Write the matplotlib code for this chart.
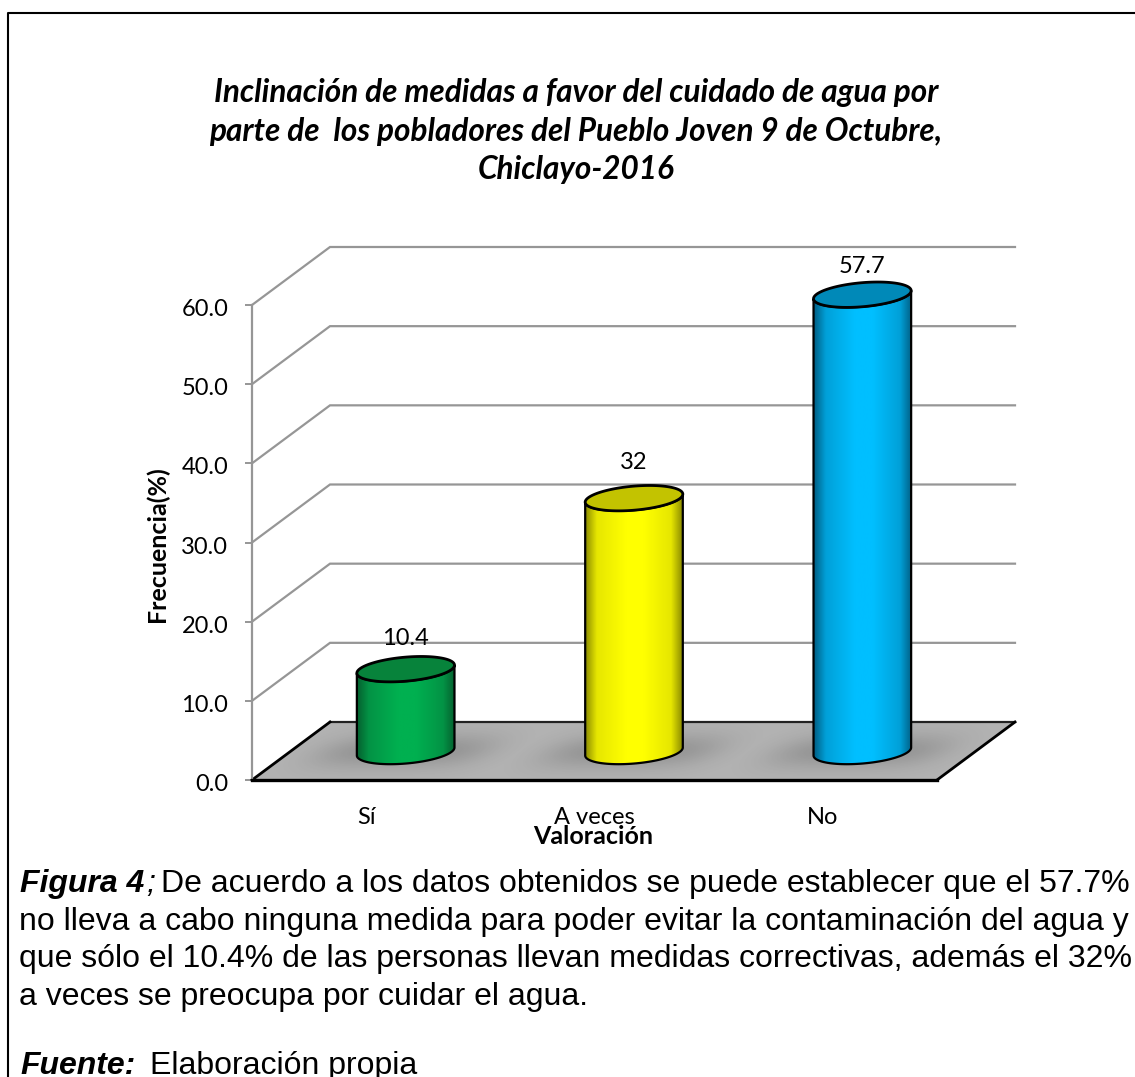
import numpy as np
from matplotlib import pyplot as plt
from matplotlib import patches
from matplotlib.colors import LinearSegmentedColormap
from matplotlib.transforms import ScaledTranslation

categories = ['Sí', 'A veces', 'No']
values = [10.4, 32, 57.7]
value_labels = ['10.4', '32', '57.7']
yticks = [0, 10, 20, 30, 40, 50, 60]
main_colors = ['#00B050', '#FFFF00', '#00BFFF']
mid_colors = ['#039345', '#E6E600', '#00A0D8']
edge_colors = ['#05602f', '#8a8a00', '#005f85']
top_colors = ['#07833b', '#c3c300', '#0089b8']
label_lift = [31, 36, 28]

title = ('Inclinación de medidas a favor del cuidado de agua por\n'
         'parte de  los pobladores del Pueblo Joven 9 de Octubre,\n'
         'Chiclayo-2016')
caption = ['no lleva a cabo ninguna medida para poder evitar la contaminación del agua y',
           'que sólo el 10.4% de las personas llevan medidas correctivas, además el 32%',
           'a veces se preocupa por cuidar el agua.']

W, H = 1135, 1077
CHART_FONT = 'Lato'
NOTE_FONT = 'Liberation Sans'

fig = plt.figure(figsize=(W / 100, H / 100), dpi=100)
ax = fig.add_axes([252 / W, 1 - 780 / H, 685 / W, 475 / H])
ax.set_xlim(-0.5, 2.5)
ax.set_ylim(0, 60)

# size of one pixel in data units, the 3d look is drawn with these
PX = 3 / 685
PY = 60 / 475
DEPTH_X = 78 * PX
DEPTH_Y = 58 * PY


def txt(x, y, s, **kw):
    return fig.text(x / W, 1 - y / H, s, **kw)


def ellipse_points(cx, cy, t, a=49, b=12, tilt=-5.0):
    # tilted ellipse, sizes in pixels, result in data units
    phi = np.radians(tilt)
    px = a * np.cos(t) * np.cos(phi) - b * np.sin(t) * np.sin(phi)
    py = a * np.cos(t) * np.sin(phi) + b * np.sin(t) * np.cos(phi)
    return np.column_stack([cx + px * PX, cy - py * PY])


# floor
floor_xy = np.array([[-0.5, 0], [2.5, 0], [2.5 + DEPTH_X, DEPTH_Y], [-0.5 + DEPTH_X, DEPTH_Y]])
floor = patches.Polygon(floor_xy, closed=True, fc='#B2B2B2', ec='none', zorder=1, clip_on=False)
ax.add_patch(floor)

# soft shadows on the floor
gx = np.linspace(-0.5, 2.5 + DEPTH_X, 500)
gy = np.linspace(0, DEPTH_Y, 100)
xx, yy = np.meshgrid(gx, gy)
shade = np.zeros_like(xx)
for i in range(len(values)):
    dx = (xx - (i + DEPTH_X / 2)) / PX
    dy = (yy - DEPTH_Y / 2) / PY
    shade = np.maximum(shade, np.exp(-((dx - 1.2 * dy) / 85) ** 4 - (dy / 17) ** 2))
rgba = np.zeros(xx.shape + (4,))
rgba[..., 3] = 0.17 * shade
im = ax.imshow(rgba, extent=(gx[0], gx[-1], gy[0], gy[-1]), origin='lower', aspect='auto', zorder=1.5)
im.set_clip_path(floor)
im.set_clip_box(fig.bbox)

# back and side walls
for v in yticks[1:]:
    ax.plot([-0.5, -0.5 + DEPTH_X, 2.5 + DEPTH_X], [v, v + DEPTH_Y, v + DEPTH_Y],
            color='#969696', lw=1.6, zorder=0.5, clip_on=False, solid_joinstyle='miter')

# floor outline
ax.plot([-0.5 + DEPTH_X, 2.5 + DEPTH_X], [DEPTH_Y, DEPTH_Y], color='#222222', lw=1.6, zorder=1.8, clip_on=False)
ax.plot([-0.5, -0.5 + DEPTH_X], [0, DEPTH_Y], color='k', lw=2.0, zorder=1.8, clip_on=False)
ax.plot([2.5, 2.5 + DEPTH_X], [0, DEPTH_Y], color='k', lw=2.0, zorder=1.8, clip_on=False)

# cylinders
t_all = np.linspace(0, 2 * np.pi, 120)
for i, v in enumerate(values):
    cx = i + DEPTH_X / 2 + 0.5 * PX
    base = DEPTH_Y / 2 - 0.5 * PY
    top = base + v
    # go round: top front edge left to right, then bottom front edge right to left
    front_top = ellipse_points(cx, top, np.linspace(np.pi, 0, 60))
    front_bot = ellipse_points(cx, base, np.linspace(0, np.pi, 60))
    body = np.vstack([front_top, front_bot])
    shape = patches.Polygon(body, closed=True, fc='none', ec='k', lw=1.6, zorder=3, clip_on=False)
    ax.add_patch(shape)
    cmap = LinearSegmentedColormap.from_list('c%d' % i, [(0, edge_colors[i]), (0.12, mid_colors[i]),
                                                         (0.42, main_colors[i]), (0.6, main_colors[i]),
                                                         (0.88, mid_colors[i]), (1, edge_colors[i])])
    xs = np.linspace(0, 1, 256).reshape(1, -1)
    grad = ax.imshow(xs, cmap=cmap, aspect='auto', zorder=2.5,
                     extent=(body[:, 0].min(), body[:, 0].max(), body[:, 1].min(), body[:, 1].max()))
    grad.set_clip_path(shape)
    grad.set_clip_box(fig.bbox)
    cap = patches.Polygon(ellipse_points(cx, top, t_all), closed=True, fc=top_colors[i], ec='k', lw=2.0,
                          zorder=4, clip_on=False)
    ax.add_patch(cap)
    ax.annotate(value_labels[i], (cx, top), xytext=(0, label_lift[i] * 0.72), textcoords='offset points',
                ha='center', va='center', fontsize=17, family=CHART_FONT, color='k', zorder=5,
                annotation_clip=False)

ax.set_xlim(-0.5, 2.5)
ax.set_ylim(0, 60)

# axes
for side in ['top', 'right']:
    ax.spines[side].set_visible(False)
ax.patch.set_visible(False)
ax.spines['left'].set_color('#969696')
ax.spines['left'].set_linewidth(1.6)
ax.spines['bottom'].set_color('k')
ax.spines['bottom'].set_linewidth(2.4)
ax.set_yticks(yticks)
ax.set_yticklabels(['%.1f' % v for v in yticks], fontsize=17, family=CHART_FONT)
ax.tick_params(axis='y', length=5, width=1.4, color='#969696', pad=12)
nudge = ScaledTranslation(0, -0.025, fig.dpi_scale_trans)
for lab in ax.get_yticklabels():
    lab.set_transform(lab.get_transform() + nudge)
ax.set_xticks(range(len(categories)))
ax.set_xticklabels(categories, fontsize=17, family=CHART_FONT)
ax.tick_params(axis='x', length=0, pad=19.5)

txt(157, 544, 'Frecuencia(%)', rotation=90, ha='center', va='center', fontsize=18, fontweight='bold',
    family=CHART_FONT)
txt(593, 837, 'Valoración', ha='center', va='center', fontsize=18, fontweight='bold', family=CHART_FONT)
txt(576, 131, title, ha='center', va='center', multialignment='center', fontsize=22.7, fontweight='bold',
    style='italic', family=CHART_FONT, linespacing=1.38)

# note under the chart
NOTE_SIZE = 23.05
txt(20, 892, 'Figura 4', ha='left', va='baseline', fontsize=NOTE_SIZE, fontweight='bold', style='italic',
    family=NOTE_FONT)
txt(146, 892, ';', ha='left', va='baseline', fontsize=NOTE_SIZE, style='italic', family=NOTE_FONT)
txt(161, 892, 'De acuerdo a los datos obtenidos se puede establecer que el 57.7%', ha='left', va='baseline',
    fontsize=NOTE_SIZE, family=NOTE_FONT)
for y, line in zip([930, 967, 1005], caption):
    txt(19, y, line, ha='left', va='baseline', fontsize=NOTE_SIZE, family=NOTE_FONT)
txt(20, 1074, 'Fuente:', ha='left', va='baseline', fontsize=NOTE_SIZE, fontweight='bold', style='italic',
    family=NOTE_FONT)
txt(150, 1074, 'Elaboración propia', ha='left', va='baseline', fontsize=NOTE_SIZE, family=NOTE_FONT)

# page frame, open to the right and the bottom
fig.add_artist(plt.Line2D([8 / W, 8 / W, 1], [0, 1 - 13 / H, 1 - 13 / H], color='k', lw=1.5))

fig.savefig('out.png', dpi=100)
